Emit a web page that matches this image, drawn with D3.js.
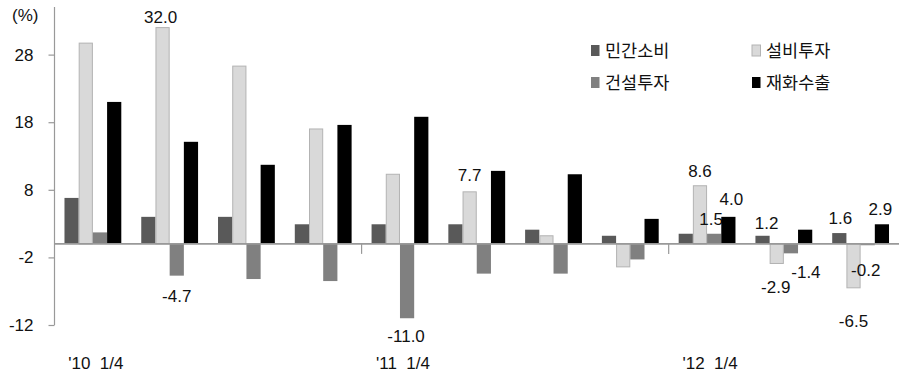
<!DOCTYPE html>
<html>
<head>
<meta charset="utf-8">
<script src="https://cdn.jsdelivr.net/npm/d3@7/dist/d3.min.js"></script>
<style>
  html, body { margin: 0; padding: 0; background: #fff; }
  svg { display: block; }
  .num { font-family: "Liberation Sans", Arial, sans-serif; font-size: 17px; fill: #111; }
  .kr { font-family: "Noto Sans CJK KR", sans-serif; font-size: 17.5px; fill: #111; }
</style>
</head>
<body>
<svg id="chart" width="901" height="377"></svg>
<script>
// Quarterly growth by demand component (%, y/y)
const quarters = ["'10 1/4", "2/4", "3/4", "4/4", "'11 1/4", "2/4", "3/4", "4/4", "'12 1/4", "2/4", "3/4"];
const seriesNames = ["민간소비", "설비투자", "건설투자", "재화수출"];
const privateConsumption = [6.8, 4.0, 4.0, 2.9, 2.9, 2.9, 2.1, 1.2, 1.5, 1.2, 1.6];
const facilityInvestment = [29.7, 32.0, 26.3, 17.0, 10.3, 7.7, 1.2, -3.4, 8.6, -2.9, -6.5];
const constructionInvestment = [1.7, -4.7, -5.2, -5.5, -11.0, -4.4, -4.4, -2.3, 1.5, -1.4, -0.2];
const goodsExports = [21.0, 15.1, 11.7, 17.6, 18.8, 10.8, 10.3, 3.7, 4.0, 2.1, 2.9];
const yTicks = [-12, -2, 8, 18, 28];

const seriesValues = [privateConsumption, facilityInvestment, constructionInvestment, goodsExports];

// Which bars carry a value label: [series, quarter, dx, gap from bar end]
const labelled = [
  [1, 1, -2, 4], [2, 1, 0, 13],
  [2, 4, -1, 11], [1, 5, 0, 10],
  [1, 8, 0, 8], [2, 8, -3, 8], [3, 8, 3, 11],
  [0, 9, 4, 6], [1, 9, -1, 17], [2, 9, 15, 12],
  [0, 10, 1, 8], [1, 10, 0, 26], [2, 10, -2, 18], [3, 10, -1.5, 8]
];

const fills = ["#595959", "#d9d9d9", "#808080", "#000000"];
const strokes = ["none", "#b3b3b3", "none", "none"];

const svg = d3.select("#chart");

const y = d3.scaleLinear().domain([-12, 34.6]).range([325, 10]);
const x = d3.scaleBand().domain(d3.range(quarters.length))
  .range([54.5, 899]).paddingInner(0.26).paddingOuter(0.13);
const xs = d3.scaleBand().domain(d3.range(seriesNames.length)).range([0, x.bandwidth()]);

// plain hyphen for negatives
const fmtTick = d => String(d);
const fmtVal = d => d.toFixed(1);

// y axis
const yAxis = svg.append("g").attr("transform", "translate(54.5,0)")
  .call(d3.axisLeft(y).tickValues(yTicks).tickSize(6).tickPadding(15).tickFormat(fmtTick));
yAxis.select(".domain").attr("d", `M0,${y(-12)}V7`).attr("stroke", "#999").attr("stroke-width", 1.2);
yAxis.selectAll(".tick line").attr("stroke", "#999").attr("stroke-width", 1.2);
yAxis.selectAll(".tick text").attr("class", "num").attr("fill", "#111")
  .style("font-family", "Liberation Sans, Arial, sans-serif").style("font-size", "17px");

svg.append("text").attr("class", "num").attr("x", 12).attr("y", 21).text("(%)");

// bars and their labels, series by series
const plot = svg.append("g");
seriesValues.forEach((vals, s) => {
  plot.append("g").selectAll("rect").data(vals).join("rect")
    .attr("x", (d, i) => x(i) + xs(s) + (strokes[s] === "none" ? 0 : 0.5))
    .attr("width", xs.bandwidth() - (strokes[s] === "none" ? 0 : 1))
    .attr("y", d => y(Math.max(0, d)))
    .attr("height", d => Math.abs(y(d) - y(0)))
    .attr("fill", fills[s])
    .attr("stroke", strokes[s]);

  plot.append("g").selectAll("text").data(labelled.filter(l => l[0] === s)).join("text")
    .attr("class", "num")
    .attr("text-anchor", "middle")
    .attr("x", l => x(l[1]) + xs(s) + xs.bandwidth() / 2 + l[2])
    .attr("y", l => {
      const v = vals[l[1]];
      return v >= 0 ? y(v) - l[3] - 1 : y(v) + l[3] + 13;
    })
    .text(l => fmtVal(vals[l[1]]));
});

// zero line with year-boundary ticks
svg.append("line").attr("x1", 54.5).attr("x2", 899).attr("y1", y(0)).attr("y2", y(0))
  .attr("stroke", "#999").attr("stroke-width", 1.6);
const yearStarts = quarters.map((q, i) => i).filter(i => quarters[i].startsWith("'") && i > 0);
svg.append("g").selectAll("line").data(yearStarts).join("line")
  .attr("x1", i => x(i) - x.step() * 0.13).attr("x2", i => x(i) - x.step() * 0.13)
  .attr("y1", y(0)).attr("y2", y(0) + 10)
  .attr("stroke", "#999").attr("stroke-width", 1.2);

// category labels (first quarter of each year)
svg.append("g").selectAll("text").data(quarters.map((q, i) => [q, i]).filter(d => d[0].startsWith("'")))
  .join("text")
  .attr("class", "num")
  .attr("text-anchor", "middle")
  .style("white-space", "pre")
  .attr("x", d => x(d[1]) + x.bandwidth() / 2 + 3)
  .attr("y", 369)
  .text(d => d[0].replace(" ", "  "));

// legend
const legendPos = [[591, 45], [752, 45], [591, 77], [752, 77]];
const legend = svg.append("g").selectAll("g").data(seriesNames).join("g")
  .attr("transform", (d, i) => `translate(${legendPos[i][0]},${legendPos[i][1]})`);
legend.append("rect").attr("width", 8.5).attr("height", 11)
  .attr("fill", (d, i) => fills[i])
  .attr("stroke", (d, i) => strokes[i]);
legend.append("text").attr("class", "kr").attr("x", 14).attr("y", 11.5).text(d => d);
</script>
</body>
</html>
